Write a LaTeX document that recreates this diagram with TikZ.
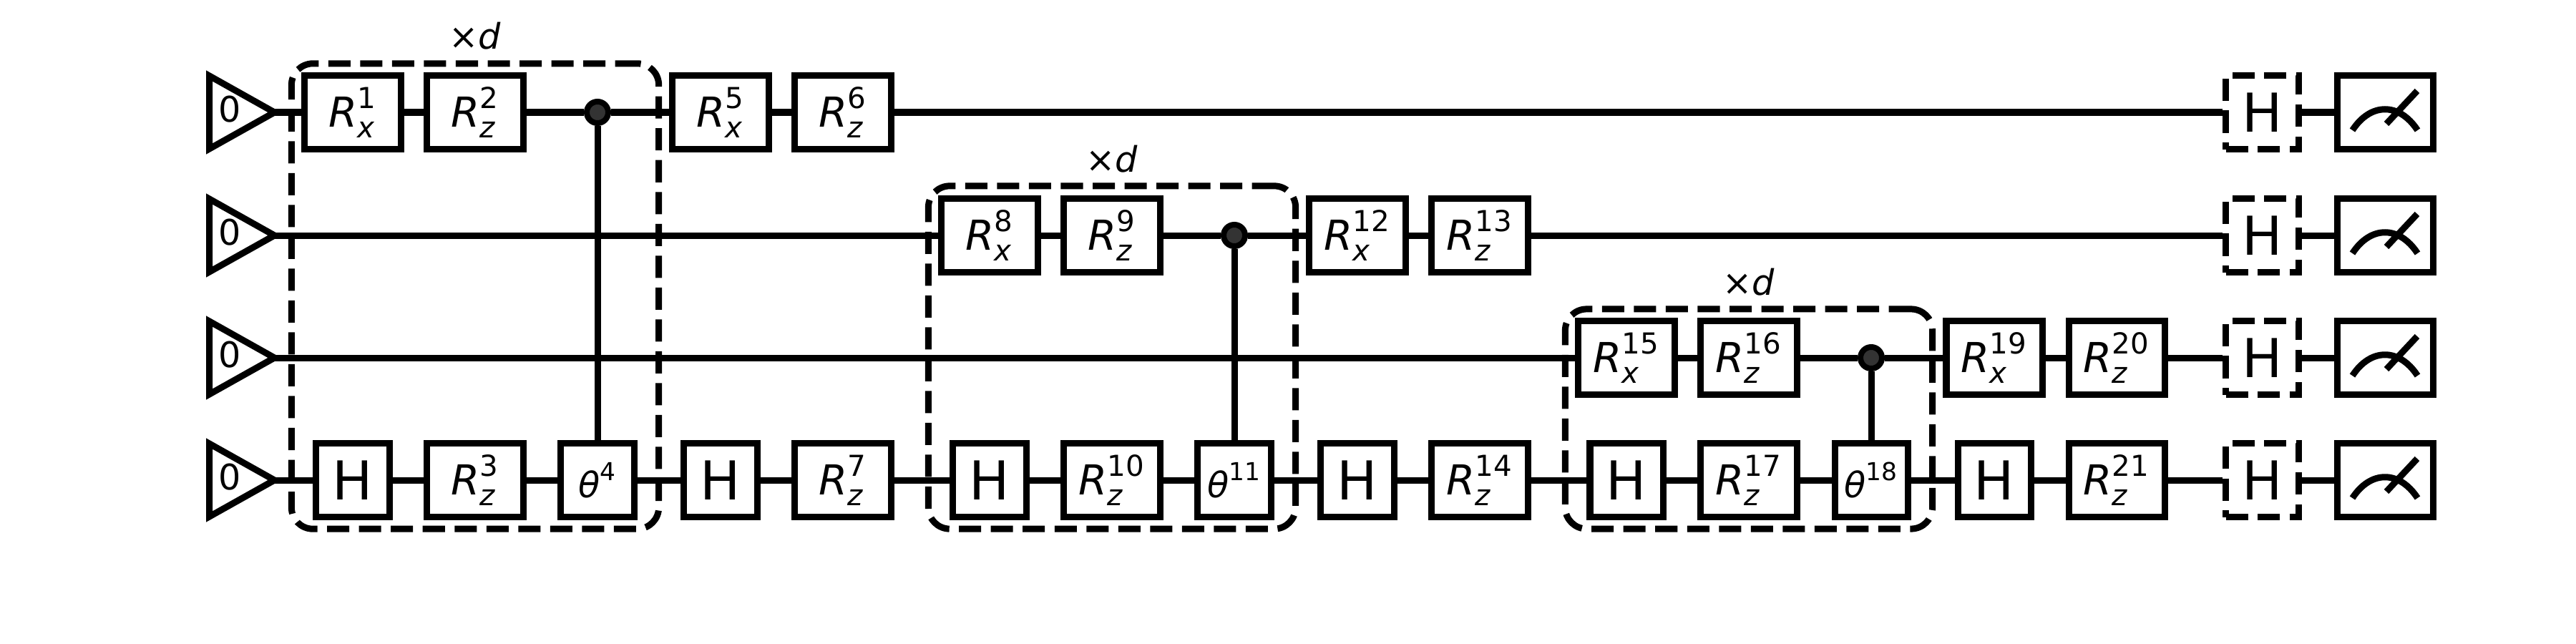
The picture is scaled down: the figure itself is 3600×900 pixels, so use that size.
\documentclass[tikz,border=0pt]{standalone}
\usepackage{amsmath}
\usepackage{fontspec}
\setmainfont{DejaVu Sans}
\usetikzlibrary{shapes.geometric}
\newcommand{\rgate}[2]{$\text{\itshape R}^{\text{#2}}_{\text{\itshape #1}}$}
\newcommand{\tgate}[1]{$\text{\itshape θ}^{\text{#1}}$}
\tikzset{
    gatebase/.style={draw,line width=0.09cm,inner sep=0pt,minimum height=1.03cm},
    rbox/.style={gatebase,minimum width=1.34cm,font=\fontsize{16.4}{20}\selectfont},
    hbox/.style={gatebase,minimum width=1.02cm,font=\fontsize{21.3}{25}\selectfont},
    dashbox/.style={hbox,dash pattern=on 0.31cm off 0.135cm},
    meterbox/.style={gatebase,minimum width=1.34cm},
    ctrl/.style={circle,draw,fill=black!80,line width=0.08cm,inner sep=0pt,minimum size=0.30cm},
    qubit/.style={isosceles triangle,isosceles triangle apex angle=62.5,isosceles triangle stretches,draw,line width=0.09cm,inner sep=0pt,minimum width=1.02cm,minimum height=0.91cm,anchor=lower side},
    qtext/.style={inner sep=0pt,font=\fontsize{14}{17}\selectfont},
    block/.style={draw,rounded corners=0.3cm,line width=0.09cm,dash pattern=on 0.31cm off 0.135cm,inner sep=0pt},
    wire/.style={line width=0.09cm},
}
\begin{document}
\begin{tikzpicture}[x=0.01cm,y=-0.01cm]
    \useasboundingbox (0,0) rectangle (3600,900);

    % dashed blocks
    \node[block,minimum width=5.13cm,minimum height=6.50cm] (blk1) at (664,414) {};
    \node[block,minimum width=5.13cm,minimum height=4.79cm] (blk2) at (1554,499.5) {};
    \node[block,minimum width=5.13cm,minimum height=3.07cm] (blk3) at (2444,585.5) {};
    \node[qtext] (rep1) at (664,50) {×\textit{d}};
    \node[qtext] (rep2) at (1554,222) {×\textit{d}};
    \node[qtext] (rep3) at (2444,394) {×\textit{d}};

    % inputs
    \node[qubit] (q1) at (288,157) {};
    \node[qubit] (q2) at (288,329) {};
    \node[qubit] (q3) at (288,500) {};
    \node[qubit] (q4) at (288,671) {};
    \node[qtext] (z1) at (321,153) {0};
    \node[qtext] (z2) at (321,325) {0};
    \node[qtext] (z3) at (321,496) {0};
    \node[qtext] (z4) at (321,667) {0};
    \coordinate (a1) at (376,157);
    \coordinate (a2) at (376,329);
    \coordinate (a3) at (376,500);
    \coordinate (a4) at (376,671);

    % first row
    \node[rbox] (r1) at (493,157) {\rgate{x}{1}};
    \node[rbox] (r2) at (664,157) {\rgate{z}{2}};
    \node[ctrl] (c1) at (835,157) {};
    \node[rbox] (r5) at (1007,157) {\rgate{x}{5}};
    \node[rbox] (r6) at (1178,157) {\rgate{z}{6}};
    \node[dashbox] (m1) at (3161.5,157) {H};
    \node[meterbox] (s1) at (3333,157) {};

    % second row
    \node[rbox] (r8) at (1383,329) {\rgate{x}{8}};
    \node[rbox] (r9) at (1554,329) {\rgate{z}{9}};
    \node[ctrl] (c2) at (1725,329) {};
    \node[rbox] (r12) at (1897,329) {\rgate{x}{12}};
    \node[rbox] (r13) at (2068,329) {\rgate{z}{13}};
    \node[dashbox] (m2) at (3161.5,329) {H};
    \node[meterbox] (s2) at (3333,329) {};

    % third row
    \node[rbox] (r15) at (2273,500) {\rgate{x}{15}};
    \node[rbox] (r16) at (2444,500) {\rgate{z}{16}};
    \node[ctrl] (c3) at (2615,500) {};
    \node[rbox] (r19) at (2787,500) {\rgate{x}{19}};
    \node[rbox] (r20) at (2958,500) {\rgate{z}{20}};
    \node[dashbox] (m3) at (3161.5,500) {H};
    \node[meterbox] (s3) at (3333,500) {};

    % fourth row
    \node[hbox] (h1) at (493,671) {H};
    \node[rbox] (r3) at (664,671) {\rgate{z}{3}};
    \node[hbox,font=\fontsize{14}{17}\selectfont] (t4) at (835,671) {\tgate{4}};
    \node[hbox] (h2) at (1007,671) {H};
    \node[rbox] (r7) at (1178,671) {\rgate{z}{7}};
    \node[hbox] (h3) at (1383,671) {H};
    \node[rbox] (r10) at (1554,671) {\rgate{z}{10}};
    \node[hbox,font=\fontsize{14}{17}\selectfont] (t11) at (1725,671) {\tgate{11}};
    \node[hbox] (h4) at (1897,671) {H};
    \node[rbox] (r14) at (2068,671) {\rgate{z}{14}};
    \node[hbox] (h5) at (2273,671) {H};
    \node[rbox] (r17) at (2444,671) {\rgate{z}{17}};
    \node[hbox,font=\fontsize{14}{17}\selectfont] (t18) at (2615,671) {\tgate{18}};
    \node[hbox] (h6) at (2787,671) {H};
    \node[rbox] (r21) at (2958,671) {\rgate{z}{21}};
    \node[dashbox] (m4) at (3161.5,671) {H};
    \node[meterbox] (s4) at (3333,671) {};

    % wires
    \draw[wire] (a1) -- (r1) -- (r2) -- (c1) -- (r5) -- (r6) -- (m1) -- (s1);
    \draw[wire] (a2) -- (r8) -- (r9) -- (c2) -- (r12) -- (r13) -- (m2) -- (s2);
    \draw[wire] (a3) -- (r15) -- (r16) -- (c3) -- (r19) -- (r20) -- (m3) -- (s3);
    \draw[wire] (a4) -- (h1) -- (r3) -- (t4) -- (h2) -- (r7) -- (h3) -- (r10) -- (t11) -- (h4) -- (r14) -- (h5) -- (r17) -- (t18) -- (h6) -- (r21) -- (m4) -- (s4);
    \draw[wire] (c1) -- (t4);
    \draw[wire] (c2) -- (t11);
    \draw[wire] (c3) -- (t18);

    % meters
    \draw[wire,shift={(s1)}] (-45.5,25) .. controls (-20,-14) and (20,-14) .. (45.5,25) (2,16) -- (45,-30);
    \draw[wire,shift={(s2)}] (-45.5,25) .. controls (-20,-14) and (20,-14) .. (45.5,25) (2,16) -- (45,-30);
    \draw[wire,shift={(s3)}] (-45.5,25) .. controls (-20,-14) and (20,-14) .. (45.5,25) (2,16) -- (45,-30);
    \draw[wire,shift={(s4)}] (-45.5,25) .. controls (-20,-14) and (20,-14) .. (45.5,25) (2,16) -- (45,-30);
\end{tikzpicture}
\end{document}
